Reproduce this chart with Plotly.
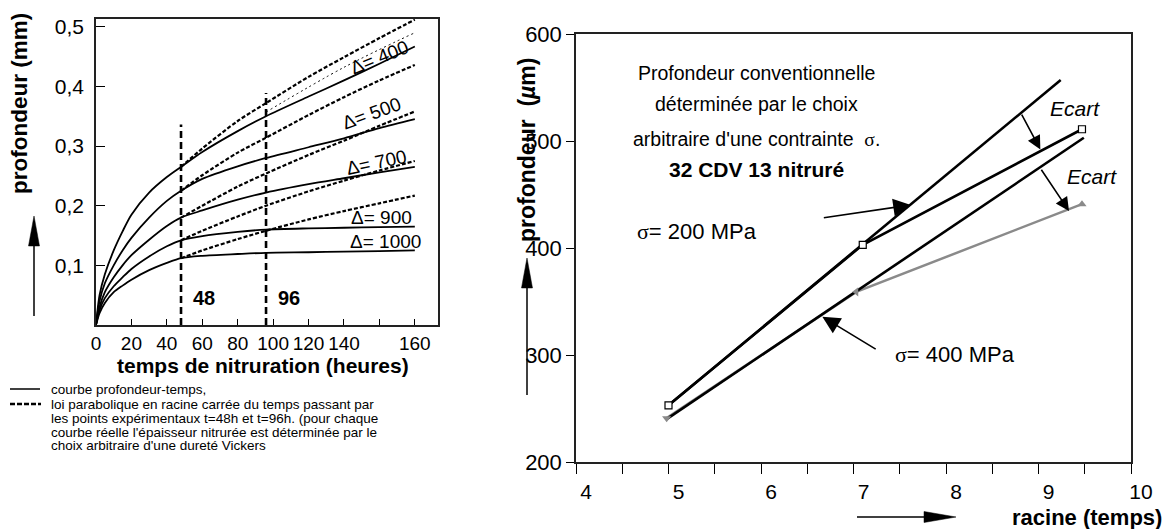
import math
import plotly.graph_objects as go

W, H = 1167, 529
FONT = "Liberation Sans, Arial, sans-serif"
SERIF = "Liberation Serif, Times New Roman, serif"

# ---------------- left panel: depth (mm) vs nitriding time (h) ----------------
t_solid = [0, 2, 5, 10, 15, 20, 30, 40, 48, 60, 80, 96, 120, 140, 160, 180]
solid_400 = [0, 0.05, 0.085, 0.125, 0.157, 0.185, 0.222, 0.248, 0.265, 0.29, 0.325, 0.35, 0.383, 0.41, 0.438, 0.467]
solid_500 = [0, 0.04, 0.07, 0.10, 0.125, 0.146, 0.18, 0.208, 0.225, 0.245, 0.266, 0.28, 0.298, 0.313, 0.33, 0.345]
solid_700 = [0, 0.03, 0.055, 0.08, 0.10, 0.117, 0.143, 0.166, 0.18, 0.192, 0.21, 0.222, 0.236, 0.246, 0.256, 0.265]
solid_900 = [0, 0.025, 0.045, 0.065, 0.08, 0.094, 0.115, 0.132, 0.142, 0.149, 0.156, 0.16, 0.162, 0.163, 0.164, 0.165]
solid_1000 = [0, 0.02, 0.037, 0.055, 0.066, 0.076, 0.092, 0.104, 0.112, 0.116, 0.119, 0.121, 0.122, 0.123, 0.124, 0.125]

t_parab = [48, 60, 80, 96, 120, 140, 160, 180]
parab_400 = [0.265, 0.296, 0.342, 0.372, 0.416, 0.449, 0.481, 0.512]
parab_500 = [0.225, 0.251, 0.289, 0.314, 0.352, 0.382, 0.41, 0.436]
parab_700 = [0.18, 0.2, 0.232, 0.254, 0.285, 0.309, 0.334, 0.358]
parab_900 = [0.142, 0.158, 0.182, 0.2, 0.224, 0.242, 0.259, 0.275]
parab_1000 = [0.112, 0.125, 0.144, 0.158, 0.177, 0.191, 0.204, 0.217]

t_thin = [96, 140, 180]
thin_400 = [0.357, 0.432, 0.49]

t_marks = [48, 96]
mark_tops = [0.336, 0.389]
mark_labels = ["48", "96"]

delta_labels = ["Δ= 400", "Δ= 500", "Δ= 700", "Δ= 900", "Δ= 1000"]

left_x_tickvals = [0, 20, 40, 60, 80, 100, 120, 140, 180]
left_x_ticktext = ["0", "20", "40", "60", "80", "100", "120", "140", "160"]
left_y_tickvals = [0.1, 0.2, 0.3, 0.4, 0.5]
left_y_ticktext = ["0,1", "0,2", "0,3", "0,4", "0,5"]

# ---------------- right panel: depth (µm) vs sqrt(time) ----------------
racine_200 = [5.0, 7.1, 9.47]
prof_200 = [253, 403, 511]
racine_400 = [4.98, 7.03, 9.47]
prof_400 = [241, 359, 441]
extrap_200_x = [5.0, 9.24]
extrap_200_y = [253, 557]
extrap_400_x = [4.98, 9.49]
extrap_400_y = [240, 503]

fig = go.Figure()

for ys in [solid_400, solid_500, solid_700, solid_900, solid_1000]:
    fig.add_trace(go.Scatter(x=t_solid, y=ys, mode="lines",
                             line=dict(color="black", width=1.8, shape="spline", smoothing=0.8),
                             xaxis="x", yaxis="y", showlegend=False, hoverinfo="skip"))
for ys in [parab_400, parab_500, parab_700, parab_900, parab_1000]:
    fig.add_trace(go.Scatter(x=t_parab, y=ys, mode="lines",
                             line=dict(color="black", width=2.2, dash="4px,2px", shape="spline", smoothing=0.8),
                             xaxis="x", yaxis="y", showlegend=False, hoverinfo="skip"))
fig.add_trace(go.Scatter(x=t_thin, y=thin_400, mode="lines",
                         line=dict(color="black", width=1, dash="2px,3px", shape="spline"),
                         xaxis="x", yaxis="y", showlegend=False, hoverinfo="skip"))
for tm, top in zip(t_marks, mark_tops):
    fig.add_trace(go.Scatter(x=[tm, tm], y=[0, top], mode="lines",
                             line=dict(color="black", width=2.6, dash="7px,4px"),
                             xaxis="x", yaxis="y", showlegend=False, hoverinfo="skip"))

# right panel traces
fig.add_trace(go.Scatter(x=racine_400, y=prof_400, mode="lines",
                         line=dict(color="#8a8a8a", width=2.5),
                         xaxis="x2", yaxis="y2", showlegend=False, hoverinfo="skip"))
fig.add_trace(go.Scatter(x=extrap_200_x, y=extrap_200_y, mode="lines",
                         line=dict(color="black", width=2.6),
                         xaxis="x2", yaxis="y2", showlegend=False, hoverinfo="skip"))
fig.add_trace(go.Scatter(x=extrap_400_x, y=extrap_400_y, mode="lines",
                         line=dict(color="black", width=2.6),
                         xaxis="x2", yaxis="y2", showlegend=False, hoverinfo="skip"))
fig.add_trace(go.Scatter(x=racine_200, y=prof_200, mode="lines+markers",
                         line=dict(color="black", width=2.6),
                         marker=dict(symbol="square", size=7, color="white",
                                     line=dict(color="black", width=1.2)),
                         xaxis="x2", yaxis="y2", showlegend=False, hoverinfo="skip"))
fig.add_trace(go.Scatter(x=racine_400, y=prof_400, mode="markers",
                         marker=dict(symbol=["triangle-down", "triangle-left", "triangle-up"],
                                     size=8, color="#8a8a8a"),
                         xaxis="x2", yaxis="y2", showlegend=False, hoverinfo="skip"))


def px(x):
    return x / W


def py(y):
    return 1 - y / H


annotations = []


def text_px(text, x, y, size, bold=False, italic=False, angle=0, xanchor="center"):
    if bold:
        text = "<b>" + text + "</b>"
    if italic:
        text = "<i>" + text + "</i>"
    annotations.append(dict(text=text, x=px(x), y=py(y), xref="paper", yref="paper",
                            showarrow=False, xanchor=xanchor, yanchor="middle",
                            textangle=angle, font=dict(family=FONT, size=size, color="black")))


# left panel texts
text_px("profondeur (mm)", 19, 104, 22.5, bold=True, angle=-90)
text_px("temps de nitruration (heures)", 263, 366, 21, bold=True)
for lab, xx in zip(mark_labels, [204, 289]):
    text_px(lab, xx, 298, 20, bold=True)
delta_pos = [(379, 57, -22), (371, 113, -20), (376, 162, -12), (381, 218, 0), (385, 241, 0)]
for lab, (xx, yy, ang) in zip(delta_labels, delta_pos):
    text_px(lab, xx, yy, 19, angle=ang)

legend_lines = ["courbe profondeur-temps,",
                "loi parabolique en racine carrée du temps passant par",
                "les points expérimentaux t=48h et t=96h. (pour chaque",
                "courbe réelle l'épaisseur nitrurée est déterminée par le",
                "choix arbitraire d'une dureté Vickers"]
for i, line in enumerate(legend_lines):
    text_px(line, 49, 389 + [0, 15, 29, 43, 57][i], 13.5, xanchor="left")

# right panel texts
sig = '<span style="font-family:%s">σ</span>' % SERIF
text_px("Profondeur conventionnelle", 756, 73, 19.5)
text_px("déterminée par le choix", 756, 104, 19.5)
text_px("arbitraire d'une contrainte  " + sig + ".", 756, 139, 19.5)
text_px("32 CDV 13 nitruré", 756, 170, 21, bold=True)
text_px(sig + "= 200 MPa", 635, 232, 22, xanchor="left")
text_px(sig + "= 400 MPa", 893, 354, 22, xanchor="left")
text_px("Ecart", 1075, 109, 21, italic=True)
text_px("Ecart", 1092, 176, 21, italic=True)
text_px("profondeur  (<i>µ</i>m)", 527, 150, 23, bold=True, angle=-90)
text_px("racine (temps)", 1164, 517, 22, bold=True, xanchor="right")

# data-space arrows in right panel
arrows = [
    ((7.62, 440.2), (6.663, 428), 2.2),
    ((6.663, 335.8), (7.256, 304.7), 2.2),
    ((9.02, 492), (8.81, 526), 1.7),
    ((9.33, 434.5), (9.02, 474.5), 1.7),
]
for (hx, hy), (tx, ty), sz in arrows:
    annotations.append(dict(x=hx, y=hy, ax=tx, ay=ty, xref="x2", yref="y2", axref="x2", ayref="y2",
                            text="", showarrow=True, arrowhead=2, arrowsize=sz, arrowwidth=1.6,
                            arrowcolor="black", standoff=0))

shapes = []


def arrow_shape(x0, y0, x1, y1, hl, hw):
    # shaft from (x0,y0) to head tip (x1,y1), pixel coordinates
    dx, dy = x1 - x0, y1 - y0
    L = math.hypot(dx, dy)
    ux, uy = dx / L, dy / L
    bx, by = x1 - ux * hl, y1 - uy * hl
    nx, ny = -uy, ux
    shapes.append(dict(type="line", xref="paper", yref="paper", x0=px(x0), y0=py(y0),
                       x1=px(bx), y1=py(by), line=dict(color="black", width=1.5)))
    p1 = (bx + nx * hw / 2, by + ny * hw / 2)
    p2 = (bx - nx * hw / 2, by - ny * hw / 2)
    path = "M %f,%f L %f,%f L %f,%f Z" % (px(x1), py(y1), px(p1[0]), py(p1[1]), px(p2[0]), py(p2[1]))
    shapes.append(dict(type="path", xref="paper", yref="paper", path=path,
                       fillcolor="black", line=dict(color="black", width=0.5)))


arrow_shape(34, 316, 34, 216, 30, 11)
arrow_shape(527, 395, 527, 258, 30, 11)
arrow_shape(857, 517, 956, 517, 32, 11)

# legend samples
shapes.append(dict(type="line", xref="paper", yref="paper", x0=px(10), x1=px(40), y0=py(389), y1=py(389),
                   line=dict(color="black", width=1.5)))
shapes.append(dict(type="line", xref="paper", yref="paper", x0=px(10), x1=px(41), y0=py(404), y1=py(404),
                   line=dict(color="black", width=2.5, dash="5px,2px")))

axis_common = dict(showgrid=False, zeroline=False, showline=True, linecolor="#222", linewidth=1.5,
                   mirror=True, tickcolor="black", automargin=False,
                   tickfont=dict(family=FONT, size=19, color="black"))

fig.update_layout(
    template="none",
    width=W, height=H,
    margin=dict(l=0, r=0, t=0, b=0, pad=0, autoexpand=False),
    paper_bgcolor="white", plot_bgcolor="white",
    font=dict(family=FONT, color="black"),
    showlegend=False,
    xaxis=dict(axis_common, domain=[px(96), px(437.5)], range=[0, 192.8], anchor="y",
               tickmode="array", tickvals=left_x_tickvals, ticktext=left_x_ticktext,
               ticks="inside", ticklen=6, tickwidth=1.3,
               minor=dict(tickmode="array", tickvals=[160], ticks="inside", ticklen=6, tickwidth=1.3,
                          tickcolor="black")),
    yaxis=dict(axis_common, domain=[py(325), py(19)], range=[0, 0.513], anchor="x",
               tickmode="array", tickvals=left_y_tickvals, ticktext=left_y_ticktext,
               ticks="inside", ticklen=9, tickwidth=1.3, ticklabelstandoff=6,
               tickfont=dict(family=FONT, size=21, color="black")),
    xaxis2=dict(axis_common, domain=[px(576), px(1131)], range=[4, 10], anchor="y2",
                tickmode="linear", tick0=4, dtick=1, ticks="outside", ticklen=10, tickwidth=1.3,
                ticklabelshift=10, tickfont=dict(family=FONT, size=21, color="black"),
                minor=dict(dtick=0.5, tick0=4, ticks="outside", ticklen=10, tickwidth=1.3, tickcolor="black")),
    yaxis2=dict(axis_common, domain=[py(462), py(34)], range=[200, 600], anchor="x2",
                tickmode="linear", tick0=200, dtick=100, ticks="outside", ticklen=8, tickwidth=1.3,
                tickfont=dict(family=FONT, size=22, color="black")),
    annotations=annotations,
    shapes=shapes,
)

fig.write_html("out.html")
